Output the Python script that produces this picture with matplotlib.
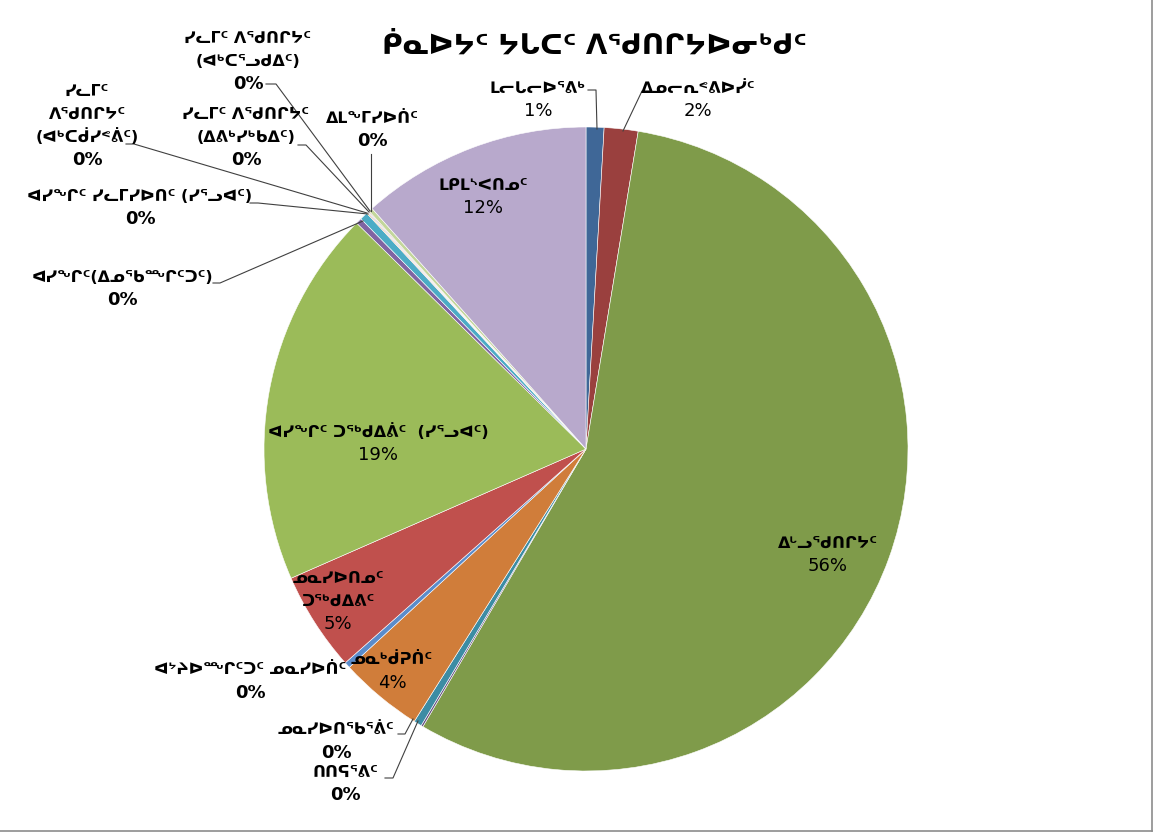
import matplotlib
matplotlib.use("Agg")
import matplotlib.pyplot as plt
import numpy as np

# ---------------- data ----------------
title = "ᑮᓇᐅᔭᑦ ᔭᒐᑕᑦ ᐱᕐᑯᑎᒋᔭᐅᓂᒃᑯᑦ"
categories = [
    "ᒪᓕᒐᓕᐅᕐᕕᒃ",
    "ᐃᓄᓕᕆᕝᕕᐅᓰᑦ",
    "ᐃᒡᓗᕐᑯᑎᒋᔭᑦ",
    "ᑎᑎᕋᕐᕕᑦ",
    "ᓄᓇᓯᐅᑎᕐᑲᕐᕖᑦ",
    "ᓄᓇᒃᑰᕈᑏᑦ",
    "ᐊᔾᔨᐅᙱᑦᑐᑦ ᓄᓇᓯᐅᑏᑦ",
    "ᓄᓇᓯᐅᑎᓄᑦ\nᑐᖅᑯᐃᕕᑦ",
    "ᐊᓯᖏᑦ ᑐᖅᑯᐃᕖᑦ  (ᓯᕐᓗᐊᑦ)",
    "ᐊᓯᖏᑦ(ᐃᓄᕐᑲᖖᒋᑦᑐᑦ)",
    "ᐊᓯᖏᑦ ᓯᓚᒥᓯᐅᑎᑦ (ᓯᕐᓗᐊᑦ)",
    "ᓯᓚᒥᑦ\nᐱᕐᑯᑎᒋᔭᑦ\n(ᐊᒃᑕᑰᓯᕝᕖᑦ)",
    "ᓯᓚᒥᑦ ᐱᕐᑯᑎᒋᔭᑦ\n(ᐃᕕᒃᓯᒃᑲᐃᑦ)",
    "ᓯᓚᒥᑦ ᐱᕐᑯᑎᒋᔭᑦ\n(ᐊᒃᑕᕐᓗᑯᐃᑦ)",
    "ᐃᒪᖕᒥᓯᐅᑏᑦ",
    "ᒪᑭᒪᔅᐸᑎᓄᑦ",
]
values = [0.9, 1.7, 56.0, 0.1, 0.4, 4.2, 0.3, 5.0, 19.0, 0.3, 0.4, 0.05, 0.05, 0.05, 0.2, 11.6]
colors = ["#3F6797", "#9A403E", "#7F9B4A", "#664F82", "#3C8CA4", "#D07D3A",
          "#5A8CCB", "#C0504D", "#9BBB59", "#8064A2", "#4BACC6", "#F79646",
          "#95B3D7", "#D99694", "#C3D69B", "#B8A9CC"]

# ---------------- layout (pixels, origin top-left) ----------------
W, H = 1159, 837
CX, CY, R = 586, 450, 322
label_pos = [
    (538, 88), (698, 88), (828, 543), (345, 772), (336, 730), (392, 660),
    (250, 670), (338, 578), (378, 432), (122, 277), (140, 196), (87, 91),
    (246, 114), (248, 38), (372, 118), (483, 185),
]
leaders = {
    0: [(588, 91), (596, 91), (597, 130)],
    1: [(650, 92), (642, 92), (623, 132)],
    3: [(385, 779), (393, 779), (418, 722)],
    4: [(398, 735), (405, 735), (413, 720)],
    9: [(213, 284), (220, 284), (363, 222)],
    10: [(250, 204), (258, 204), (368, 215)],
    11: [(126, 145), (134, 145), (367, 214)],
    12: [(298, 146), (306, 146), (369, 213)],
    13: [(266, 85), (276, 85), (370, 212)],
    14: [(371, 155), (371, 212)],
}

fig = plt.figure(figsize=(W / 100, H / 100), dpi=100)
fig.patch.set_facecolor("white")

ax = fig.add_axes([(CX - R) / W, (H - CY - R) / H, 2 * R / W, 2 * R / H])
ax.pie(values, colors=colors, startangle=90, counterclock=False, radius=1.0,
       wedgeprops=dict(edgecolor="white", linewidth=0.4))
ax.set_xlim(-1, 1)
ax.set_ylim(-1, 1)
ax.set_aspect("auto")
ax.axis("off")

ov = fig.add_axes([0, 0, 1, 1], facecolor="none")
ov.set_xlim(0, W)
ov.set_ylim(H, 0)
ov.axis("off")

# chart-area border (right and bottom edges visible)
ov.plot([1152, 1152], [0, 832], color="#8C8C8C", linewidth=1.2)
ov.plot([0, 1152], [832, 832], color="#8C8C8C", linewidth=1.2)

ov.text(594, 46, title, ha="center", va="center", fontsize=20, fontweight="bold",
        family=["DejaVu Sans"], color="black")

total = sum(values)
fs = 11.5
lh = 23
for i, (name, v) in enumerate(zip(categories, values)):
    x, y = label_pos[i]
    pct = "{:.0f}%".format(v / total * 100)
    lines = name.split("\n")
    for k, ln in enumerate(lines):
        ov.text(x, y + k * lh, ln, ha="center", va="center", fontsize=fs,
                fontweight="bold", family=["DejaVu Sans"], color="black")
    ov.text(x, y + len(lines) * lh, pct, ha="center", va="center", fontsize=13,
            fontweight="bold" if pct == "0%" else "normal",
            family=["DejaVu Sans"], color="black")

for i, pts in leaders.items():
    xs, ys = zip(*pts)
    ov.plot(xs, ys, color="#404040", linewidth=0.8)

fig.savefig("out.png", dpi=100, facecolor="white")
